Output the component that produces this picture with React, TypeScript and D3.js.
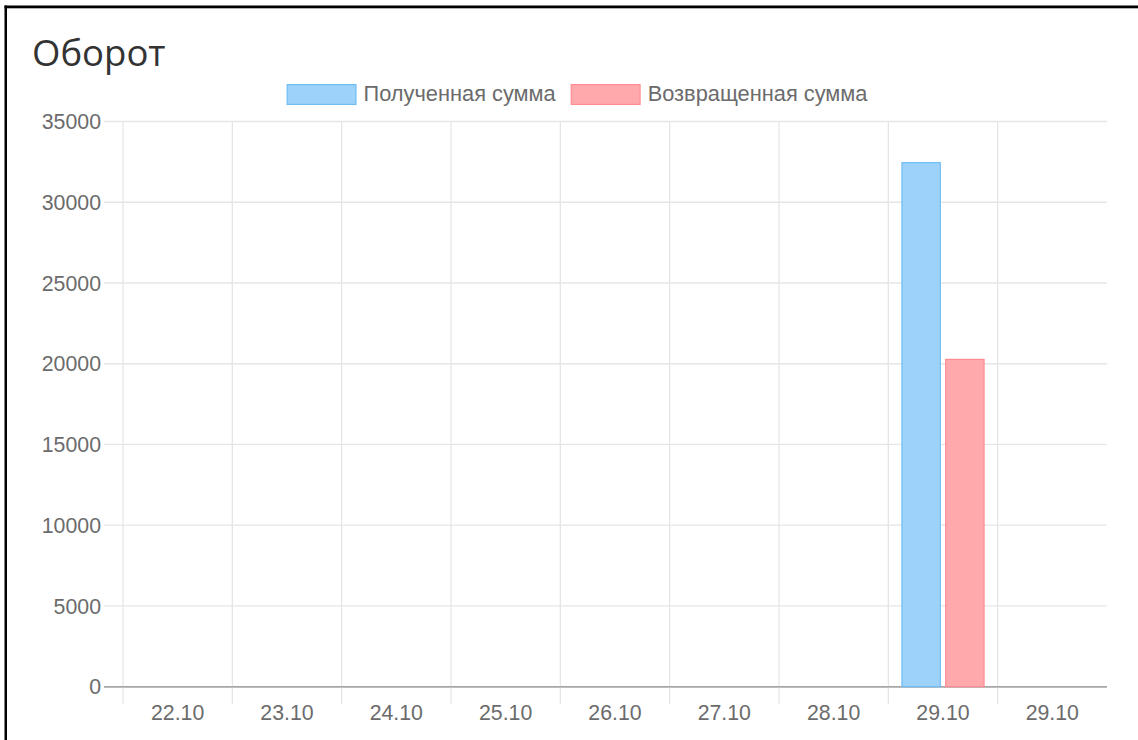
import React, { useEffect, useRef } from "react";
import * as d3 from "d3";

const chartTitle = "Оборот";
const categories = ["22.10", "23.10", "24.10", "25.10", "26.10", "27.10", "28.10", "29.10", "29.10"];
const receivedValues = [0, 0, 0, 0, 0, 0, 0, 32450, 0];
const returnedValues = [0, 0, 0, 0, 0, 0, 0, 20270, 0];
const seriesNames = ["Полученная сумма", "Возвращенная сумма"];
const yTicks = [0, 5000, 10000, 15000, 20000, 25000, 30000, 35000];

const W = 1138;
const H = 740;
const FONT = "'Liberation Sans', Arial, sans-serif";
const FS = 21.3;

export default function App() {
  const ref = useRef<SVGSVGElement | null>(null);

  useEffect(() => {
    const svg = d3.select(ref.current);
    svg.selectAll("*").remove();

    const left = 123, right = 1107, top = 121.5, bottom = 686.7;
    const fills = ["#9dd3fa", "#ffa9ac"];
    const strokes = ["#6fbdf3", "#ff8c92"];

    svg.append("rect").attr("width", W).attr("height", H).attr("fill", "#fff");

    // frame
    svg.append("rect").attr("x", 4.5).attr("y", 5.5).attr("width", 2.5).attr("height", H).attr("fill", "#000");
    svg.append("rect").attr("x", 4.5).attr("y", 5.5).attr("width", W).attr("height", 2.8).attr("fill", "#000");

    // title
    svg.append("text").attr("x", 32).attr("y", 65.5)
      .attr("font-family", "'Open Sans', sans-serif").attr("font-size", 36.5)
      .attr("fill", "#333").text(chartTitle);

    const idx = categories.map((_, i) => String(i));
    const x = d3.scaleBand<string>().domain(idx).range([left, right]).padding(0);
    const y = d3.scaleLinear().domain([0, 35000]).range([bottom, top]);
    const bw = x.bandwidth();
    const x1 = d3.scaleBand<string>().domain(["0", "1"]).range([bw * 0.1, bw * 0.9]).paddingInner(0.1).paddingOuter(0.05);

    const g = svg.append("g");
    yTicks.forEach((t) => {
      g.append("line").attr("x1", 104).attr("x2", right)
        .attr("y1", y(t)).attr("y2", y(t))
        .attr("stroke", t === 0 ? "#a6a6a6" : "#e6e6e6").attr("stroke-width", t === 0 ? 1.6 : 1.3);
      g.append("text").attr("x", 101).attr("y", y(t)).attr("dy", "0.36em")
        .attr("text-anchor", "end").attr("font-family", FONT).attr("font-size", FS)
        .attr("fill", "#6b6b6b").text(String(t));
    });
    idx.forEach((d) => {
      g.append("line").attr("x1", x(d)!).attr("x2", x(d)!)
        .attr("y1", top).attr("y2", 704)
        .attr("stroke", "#e6e6e6").attr("stroke-width", 1.3);
    });
    g.append("line").attr("x1", 104).attr("x2", right).attr("y1", y(0)).attr("y2", y(0))
      .attr("stroke", "#a6a6a6").attr("stroke-width", 1.6);

    categories.forEach((c, i) => {
      g.append("text").attr("x", x(String(i))! + bw / 2).attr("y", 720)
        .attr("text-anchor", "middle").attr("font-family", FONT).attr("font-size", FS)
        .attr("fill", "#6b6b6b").text(c);
    });

    const series = [receivedValues, returnedValues];
    series.forEach((vals, s) => {
      vals.forEach((v, i) => {
        if (!v) return;
        const bx = x(String(i))! + x1(String(s))!;
        g.append("rect").attr("x", bx + 0.5).attr("y", y(v))
          .attr("width", x1.bandwidth() - 1).attr("height", y(0) - y(v))
          .attr("fill", fills[s]).attr("stroke", strokes[s]).attr("stroke-width", 1.2);
      });
    });

    const lg = svg.append("g");
    const boxW = 70, boxH = 21, gap = 7, itemGap = 15;
    const items = seriesNames.map((name, s) => {
      const t = lg.append("text").attr("y", 101).attr("font-family", FONT)
        .attr("font-size", 21.8).attr("fill", "#6b6b6b").text(name);
      const w = (t.node() as SVGTextElement).getComputedTextLength();
      return { t, w, s };
    });
    const total = items.reduce((a, it) => a + boxW + gap + it.w, 0) + itemGap * (items.length - 1);
    let cx = 577 - total / 2;
    items.forEach((it) => {
      lg.append("rect").attr("x", cx + 0.6).attr("y", 84.6).attr("width", boxW - 1.2).attr("height", boxH - 1.2)
        .attr("fill", fills[it.s]).attr("stroke", strokes[it.s]).attr("stroke-width", 1.2);
      it.t.attr("x", cx + boxW + gap);
      cx += boxW + gap + it.w + itemGap;
    });
  }, []);

  return (
    <svg ref={ref} width={W} height={H}
      style={{ position: "absolute", left: 0, top: 0, display: "block" }} />
  );
}
